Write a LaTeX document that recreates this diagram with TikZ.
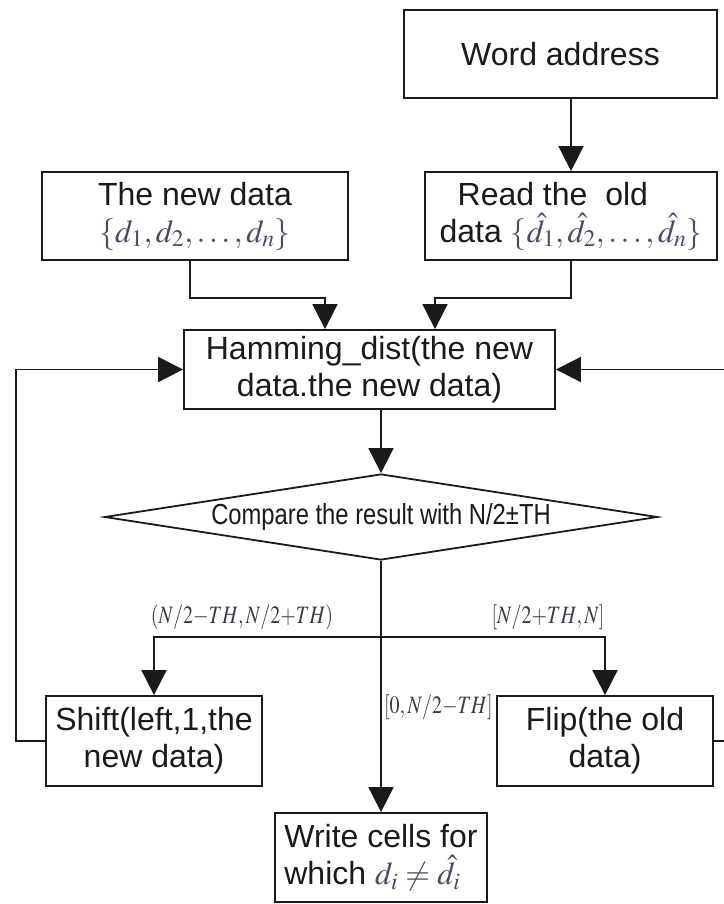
\documentclass[tikz,border=0pt]{standalone}
\usepackage{mathptmx}
\usepackage[no-math]{fontspec}
\setmainfont{Liberation Sans}
\usepackage{graphicx}
\usetikzlibrary{arrows.meta,shapes.geometric}
\definecolor{ink}{HTML}{1A1A1A}
\definecolor{mathink}{HTML}{4A4A66}
\definecolor{lblink}{HTML}{3A3A44}
% narrow setting for the branch-range labels
\newcommand{\rangelbl}[1]{\scalebox{0.8}[1]{$#1$}}
\begin{document}
\begin{tikzpicture}[x=1pt,y=-1pt,
  box/.style={draw=ink, line width=1.8pt, text=ink, inner sep=0pt, align=center,
              font=\fontsize{32}{37}\selectfont},
  link/.style={draw=ink, line width=1.8pt},
  flow/.style={link, -{Triangle[width=25pt,length=25pt]}},
  lbl/.style={text=lblink, inner sep=0pt, font=\fontsize{25}{28}\selectfont}]
\useasboundingbox (0,0) rectangle (723,904);

% process boxes
\node[box, minimum width=313pt, minimum height=88pt] (addr) at (560.5,54) {Word address};
\node[box, minimum width=306pt, minimum height=88pt] (newd) at (195,216)
  {The new data\\ \textcolor{mathink}{$\{d_1,d_2,\ldots,d_n\}$}};
\node[box, align=left, minimum width=292pt, minimum height=88pt] (read) at (571,216)
  {\hspace*{18pt}Read the\ \ old\\data \textcolor{mathink}{$\{\hat{d}_1,\hat{d}_2,\ldots,\hat{d}_n\}$}};
\node[box, minimum width=371pt, minimum height=79pt] (ham) at (369.5,369.5)
  {Hamming\_dist(the new\\data.the new data)};
\node[draw=ink, line width=1.8pt, shape=diamond, aspect=6.43, minimum width=553pt,
      minimum height=86pt, inner sep=0pt, text=ink] (cmp) at (381,517)
  {\fontsize{29}{32}\selectfont\scalebox{0.82}[1]{Compare the result with N/2±TH}};
\node[box, minimum width=216pt, minimum height=90pt] (shift) at (154,741)
  {Shift(left,1,the\\new data)};
\node[box, minimum width=216pt, minimum height=90pt] (flip) at (605,741)
  {Flip(the old\\data)};
\node[box, align=left, minimum width=212pt, minimum height=89pt] (write) at (381,857.5)
  {Write cells for\\which \textcolor{mathink}{$d_i\neq\hat{d}_i$}};

% connectors
\draw[flow] (read.north |- addr.south) -- (read.north);
\draw[flow] ([xshift=-5pt]newd.south) -- ++(0,37) -| ([xshift=-44.5pt]ham.north);
\draw[flow] (read.south) -- ++(0,37) -| ([xshift=65.5pt]ham.north);
\draw[flow] (ham.south -| cmp.north) -- (cmp.north);
\draw[flow] (cmp.south) -- (write.north);
\coordinate (br) at (381,637);
\draw[flow] (br) -| (shift.north);
\draw[flow] (br) -| (flip.north);
\draw[flow] (shift.west) -- ++(-29,0) |- (ham.west);
\draw[flow] (flip.east) -- ++(17,0) |- (ham.east);

% branch labels
\node[lbl] (l1) at (242,617) {\rangelbl{(N/2{-}TH,N/2{+}TH)}};
\node[lbl] (l2) at (548,617) {\rangelbl{[N/2{+}TH,N]}};
\node[lbl, anchor=west] (l3) at (384,707) {\rangelbl{[0,N/2{-}TH]}};
\end{tikzpicture}
\end{document}
